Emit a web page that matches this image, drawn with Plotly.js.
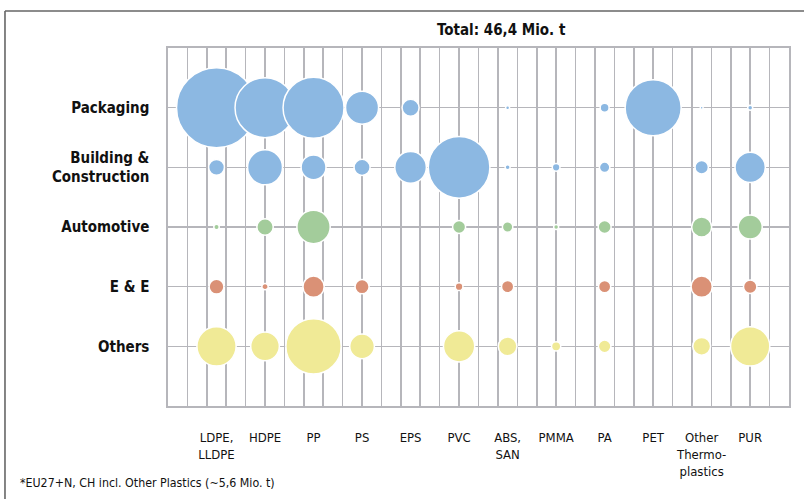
<!DOCTYPE html>
<html>
<head>
<meta charset="utf-8">
<script src="https://cdn.plot.ly/plotly-3.0.1.min.js"></script>
<style>html,body{margin:0;padding:0;background:#fff;}#chart{width:804px;height:499px;}</style>
</head>
<body>
<div id="chart"></div>
<script>
// Polymer types (x categories)
const polymers = ["LDPE,<br>LLDPE", "HDPE", "PP", "PS", "EPS", "PVC", "ABS,<br>SAN", "PMMA", "PA", "PET", "Other<br>Thermo-<br>plastics", "PUR"];
// Sectors (rows, top to bottom)
const sectors = ["Packaging", "Building &<br>Construction", "Automotive", "E & E", "Others"];
// Demand in Mio. t per polymer (order as polymers); 0 = no bubble
const packaging    = [6.40, 3.60, 3.72, 1.09, 0.29, 0,    0.016, 0,     0.08, 3.14, 0.009, 0.025];
const building     = [0.25, 1.22, 0.62, 0.26, 1.00, 3.80, 0.025, 0.06,  0.11, 0,    0.18,  0.92];
const automotive   = [0.03, 0.27, 1.11, 0,    0,    0.17, 0.11,  0.025, 0.17, 0,    0.40,  0.58];
const electrical   = [0.22, 0.04, 0.45, 0.20, 0,    0.06, 0.15,  0,     0.15, 0,    0.45,  0.18];
const others       = [1.54, 0.82, 3.06, 0.61, 0,    0.98, 0.35,  0.086, 0.16, 0,    0.32,  1.54];
const sectorValues = [packaging, building, automotive, electrical, others];
const sectorColors = ["#8cb8e2", "#8cb8e2", "#a3cc9b", "#da9176", "#f0ea96"];
const title = "Total: 46,4 Mio. t";
const footnote = "*EU27+N, CH incl. Other Plastics (~5,6 Mio. t)";

const FONT = "'Liberation Sans Narrow', 'DejaVu Sans Condensed', 'Arial Narrow', sans-serif";
const GRID = "#b6b6bb";

const traces = sectorValues.map((vals, r) => {
  const xs = [], ys = [], ss = [];
  vals.forEach((v, i) => { if (v > 0) { xs.push(i); ys.push(r); ss.push(v); } });
  return {
    type: "scatter", mode: "markers", x: xs, y: ys, xaxis: "x", yaxis: "y",
    marker: { size: ss, sizemode: "area", sizeref: 0.002, color: sectorColors[r],
              opacity: 1, line: { color: "#ffffff", width: 1.5 } },
    hoverinfo: "skip", showlegend: false, cliponaxis: false
  };
});
// dummy trace for label axis
traces.push({ type: "scatter", x: [0], y: [0], xaxis: "x2", yaxis: "y", mode: "markers",
  marker: { size: 0.1, color: "rgba(0,0,0,0)" }, showlegend: false, hoverinfo: "skip" });

const xr = [-1, 11.8];
const layout = {
  width: 804, height: 499,
  margin: { l: 168, r: 15, t: 48, b: 93 },
  paper_bgcolor: "#ffffff", plot_bgcolor: "#ffffff",
  font: { family: FONT, color: "#111" },
  xaxis: {
    range: xr, tickmode: "linear", tick0: -1, dtick: 0.4,
    showticklabels: false, ticks: "", showgrid: true, gridcolor: GRID, gridwidth: 1.6,
    zeroline: false, showline: true, mirror: true, linecolor: GRID, linewidth: 1.6, fixedrange: true
  },
  xaxis2: {
    overlaying: "x", anchor: "y", side: "bottom", range: xr,
    tickmode: "array", tickvals: polymers.map((p, i) => i), ticktext: polymers,
    showgrid: false, zeroline: false, showline: false, ticks: "",
    ticklabelstandoff: 22, tickfont: { family: FONT, size: 13, color: "#111" }, fixedrange: true
  },
  yaxis: {
    range: [5, -1], tickmode: "array", tickvals: sectors.map((s, i) => i), ticktext: sectors,
    showgrid: true, gridcolor: GRID, gridwidth: 1.6, zeroline: false,
    showline: true, mirror: true, linecolor: GRID, linewidth: 1.6, ticks: "",
    ticklabelstandoff: 14, tickfont: { family: FONT, size: 15, color: "#111", weight: "bold" }, fixedrange: true
  },
  annotations: [
    { text: "<b>" + title + "</b>", xref: "paper", yref: "paper", x: 0.537, y: 1.05,
      xanchor: "center", yanchor: "middle", showarrow: false,
      font: { family: FONT, size: 15, color: "#111" } },
    { text: footnote, xref: "paper", yref: "paper", x: -0.242, y: -0.215,
      xanchor: "left", yanchor: "middle", showarrow: false,
      font: { family: FONT, size: 12.3, color: "#111" } }
  ],
  shapes: [
    { type: "line", xref: "paper", yref: "paper", x0: -0.2625, x1: 1.05, y0: 1.1034, y1: 1.1034,
      line: { color: "#666666", width: 1.6 } },
    { type: "line", xref: "paper", yref: "paper", x0: -0.2625, x1: -0.2625, y0: 1.1034, y1: -0.3,
      line: { color: "#666666", width: 1.6 } }
  ]
};
Plotly.newPlot("chart", traces, layout, { displayModeBar: false, staticPlot: true });
</script>
</body>
</html>
